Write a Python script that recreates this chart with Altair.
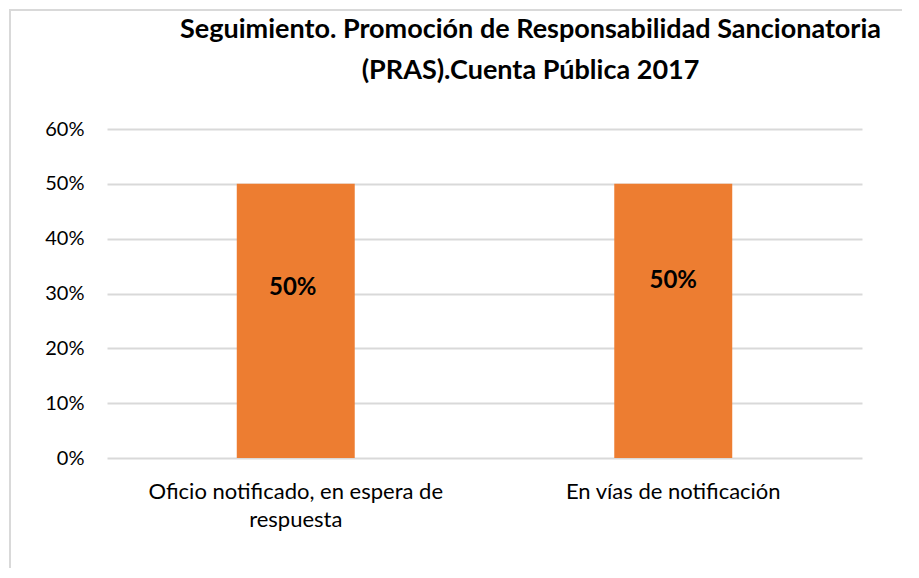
import altair as alt
import pandas as pd

categories = ["Oficio notificado, en espera de respuesta", "En vías de notificación"]
values = [0.50, 0.50]
label_lines = {
    "Oficio notificado, en espera de respuesta": ["Oficio notificado, en espera de", "respuesta"],
    "En vías de notificación": ["En vías de notificación"],
}
label_offsets = [3, -4]
y_ticks = [0, 0.1, 0.2, 0.3, 0.4, 0.5, 0.6]
title_lines = ["Seguimiento. Promoción de Responsabilidad Sancionatoria", "(PRAS).Cuenta Pública 2017"]

df = pd.DataFrame({"cat": categories, "val": values, "off": label_offsets})
df["lbl"] = (df["val"] * 100).round().astype(int).astype(str) + "%"

FONT = "Lato"
W, H = 755, 329

expr_parts = []
for k, v in label_lines.items():
    arr = "[" + ",".join("'" + s + "'" for s in v) + "]"
    expr_parts.append(f"datum.label == '{k}' ? {arr}")
label_expr = " : ".join(expr_parts) + " : datum.label"

x = alt.X("cat:N", sort=categories, title=None,
          scale=alt.Scale(paddingInner=0, paddingOuter=0),
          axis=alt.Axis(labelAngle=0, labelExpr=label_expr, labelFont=FONT, labelFontSize=22,
                        labelColor="#000000", labelLineHeight=28, labelPadding=33, labelLimit=0,
                        ticks=False, domain=False, labelBaseline="middle"))
y = alt.Y("val:Q", title=None,
          scale=alt.Scale(domain=[0, 0.6], nice=False),
          axis=alt.Axis(values=y_ticks, format=".0%", labelFont=FONT, labelFontSize=20,
                        labelColor="#000000", labelPadding=23, ticks=False, domain=False,
                        grid=True, gridColor="#d9d9d9", gridWidth=2))

border = alt.Chart(df).mark_rect(fill=None, stroke="#d9d9d9", strokeWidth=2).encode(
    x=alt.value(-97), x2=alt.value(830), y=alt.value(-119), y2=alt.value(470))

bars = alt.Chart(df).mark_bar(color="#ED7D31", width=alt.RelativeBandSize(0.3125)).encode(x=x, y=y)

texts = []
for i, c in enumerate(categories):
    t = alt.Chart(df).transform_filter(alt.datum.cat == c).transform_calculate(
        ly="datum.val * 0.63").mark_text(
        font=FONT, fontSize=24, fontWeight="bold", color="#000000", baseline="middle",
        dy=label_offsets[i], dx=-3 if i == 0 else 0).encode(
        x=alt.X("cat:N", sort=categories),
        y=alt.Y("ly:Q"),
        text="lbl:N")
    texts.append(t)

chart = alt.layer(border, bars, *texts).properties(
    width=W, height=H,
    autosize=alt.AutoSizeParams(type="none"),
    padding={"left": 99, "top": 121, "right": 40, "bottom": 110},
    title=alt.TitleParams(text=title_lines, font=FONT, fontSize=27, fontWeight="bold",
                          color="#000000", anchor="middle", frame="group", dx=46, offset=-76,
                          lineHeight=41),
).configure_view(stroke=None)

chart.save("out.html", embed_options={"renderer": "svg", "actions": False})
